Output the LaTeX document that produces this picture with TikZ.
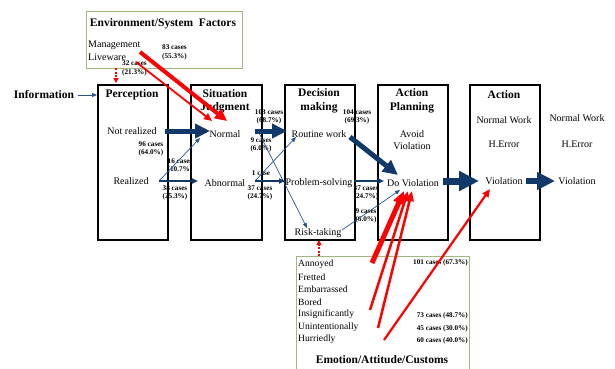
\documentclass[tikz,border=0pt]{standalone}
\usepackage{fontspec}
\setmainfont{Liberation Serif}
\usetikzlibrary{arrows.meta}
\definecolor{navy}{RGB}{16,56,104}
\definecolor{navythin}{RGB}{40,85,145}
\definecolor{boxgreen}{RGB}{160,185,125}
\definecolor{myred}{RGB}{255,0,0}
\begin{document}
\begin{tikzpicture}[x=1pt,y=-1pt,
 stagebox/.style={draw=black,line width=1.5pt},
 greenbox/.style={draw=boxgreen,line width=0.9pt},
 ttl/.style={font=\fontsize{11.5}{13.5}\selectfont\bfseries,align=center,inner sep=0},
 txt/.style={font=\fontsize{10}{12}\selectfont,inner sep=0},
 item/.style={font=\fontsize{9.6}{12}\selectfont,inner sep=0,anchor=west},
 cases/.style={font=\fontsize{7.2}{8.6}\selectfont\bfseries,align=left,inner sep=0},
 bigarrow/.style={draw=navy,line width=5pt,-{Triangle[length=15pt,width=14pt]}},
 hugearrow/.style={draw=navy,line width=7pt,-{Triangle[length=20pt,width=19pt]}},
 midarrow/.style={draw=navy,line width=1.8pt,-{Triangle[length=6pt,width=5pt]}},
 thinarrow/.style={draw=navythin,line width=0.7pt,-{Triangle[length=5pt,width=4pt]}},
 redthick/.style={draw=myred,line width=4pt,-{Triangle[length=12pt,width=11pt]}},
 redthin/.style={draw=myred,line width=1.8pt,-{Triangle[length=8pt,width=7pt]}},
 reddash/.style={draw=myred,line width=1.3pt,dashed,dash pattern=on 2pt off 1.5pt,-{Triangle[length=5pt,width=5pt]}}
]
\useasboundingbox (0,0) rectangle (615,369);
\fill[white] (0,0) rectangle (615,369);

% boxes
\draw[greenbox] (86,11) rectangle (242,68);
\node[stagebox,minimum width=70pt,minimum height=155pt,inner sep=0,anchor=north west] (perc) at (97,84) {};
\node[stagebox,minimum width=71pt,minimum height=155pt,inner sep=0,anchor=north west] (situ) at (190,84) {};
\node[stagebox,minimum width=70pt,minimum height=155pt,inner sep=0,anchor=north west] (deci) at (284,84) {};
\node[stagebox,minimum width=70pt,minimum height=155pt,inner sep=0,anchor=north west] (plan) at (377,84) {};
\node[stagebox,minimum width=70pt,minimum height=155pt,inner sep=0,anchor=north west] (act) at (469,84) {};
\draw[greenbox] (296,372) -- (296,256) -- (469,256) -- (469,372);

% environment box text
\node[ttl] (envt) at (163,24) {Environment/System\ \ Factors};
\node[item,font=\fontsize{10}{12}\selectfont] (mgmt) at (88,45) {Management};
\node[item,font=\fontsize{10}{12}\selectfont] (live) at (88,57) {Liveware};
\node[cases,anchor=north west] (c83) at (162,45) {83 cases\\(55.3\%)};
\node[cases,anchor=north west] (c32) at (122,61) {32 cases\\(21.3\%)};

% titles
\node[ttl] (info) at (44,95) {Information};
\node[ttl] (perct) at (132,95) {Perception};
\node[ttl] (situt) at (225,101.5) {Situation\\Judgment};
\node[ttl] (decit) at (319,101) {Decision\\making};
\node[ttl] (plant) at (412,101) {Action\\Planning};
\node[ttl] (actt) at (504,95) {Action};

% stage contents
\node[txt] (notr) at (132,131) {Not realized};
\node[txt] (real) at (131,181) {Realized};
\node[txt] (normal) at (225,134) {Normal};
\node[txt] (abn) at (225,183) {Abnormal};
\node[txt] (rout) at (319,134) {Routine work};
\node[txt] (prob) at (319,183) {Problem-solving};
\node[txt] (risk) at (318,233) {Risk-taking};
\node[txt,align=center,font=\fontsize{10}{12.5}\selectfont] (avoid) at (412,140) {Avoid\\Violation};
\node[txt] (dov) at (413,183) {Do Violation};
\node[txt] (nw) at (504,120) {Normal Work};
\node[txt] (he) at (504,144) {H.Error};
\node[txt] (viol) at (504,181) {Violation};
\node[txt] (nwo) at (577,118) {Normal Work};
\node[txt] (heo) at (577,144) {H.Error};
\node[txt] (violo) at (577,181) {Violation};

% case labels
\node[cases,align=center] (c96) at (151,149) {96 cases\\(64.0\%)};
\node[cases,align=center] (c16) at (180,166) {16 cases\\(10.7\%)};
\node[cases,align=center] (c38) at (175,193) {38 cases\\(25.3\%)};
\node[cases,align=center] (c103) at (269,117) {103 cases\\(68.7\%)};
\node[cases,align=center] (c9a) at (261,145) {9 cases\\(6.0\%)};
\node[cases] (c1) at (261,173) {1 case};
\node[cases,align=center] (c37a) at (260,193) {37 cases\\(24.7\%)};
\node[cases,align=center] (c104) at (357,117) {104 cases\\(69.3\%)};
\node[cases,align=center] (c37b) at (366,193) {37 cases\\(24.7\%)};
\node[cases,align=center] (c9b) at (366,216) {9 cases\\(6.0\%)};

% emotion box
\node[item] (ann) at (298,264) {Annoyed};
\node[item] (fre) at (298,277) {Fretted};
\node[item] (emb) at (298,289) {Embarrassed};
\node[item] (bor) at (298,302) {Bored};
\node[item] (ins) at (298,314) {Insignificantly};
\node[item] (uni) at (298,327) {Unintentionally};
\node[item] (hur) at (298,339) {Hurriedly};
\node[ttl] (emot) at (382,360) {Emotion/Attitude/Customs};
\node[cases,anchor=east] (c101) at (468,263) {101 cases (67.3\%)};
\node[cases,anchor=east] (c73) at (468,316) {73 cases (48.7\%)};
\node[cases,anchor=east] (c45) at (468,329) {45 cases (30.0\%)};
\node[cases,anchor=east] (c60) at (468,341) {60 cases (40.0\%)};

% coordinates for connector ends
\coordinate (infoE) at (78,95);
\coordinate (percW) at (97,95);
\coordinate (nrE) at (165,131);
\coordinate (normW) at (210,131);
\coordinate (reE) at (159,181);
\coordinate (normSW) at (200,138);
\coordinate (abnW) at (198,181);
\coordinate (normE) at (255,131);
\coordinate (normE2) at (258,131);
\coordinate (routW) at (287,131);
\coordinate (riskN) at (307,228);
\coordinate (abnE) at (255,181);
\coordinate (routSW) at (296,137);
\coordinate (probW) at (285,181);
\coordinate (routE) at (350,137);
\coordinate (dovNW) at (398,175);
\coordinate (probE) at (354,181);
\coordinate (dovW) at (384,181);
\coordinate (riskE) at (342,230);
\coordinate (dovSW) at (400,190);
\coordinate (dovE) at (443,181);
\coordinate (violW) at (479,181);
\coordinate (violE) at (526,181);
\coordinate (violoW) at (555,181);

% blue connectors
\draw[thinarrow] (infoE) -- (percW);
\draw[bigarrow] (nrE) -- (normW);
\draw[thinarrow] (reE) -- (normSW);
\draw[midarrow] (reE) -- (abnW);
\draw[bigarrow] (normE) -- (routW);
\draw[thinarrow] (normE2) -- (riskN);
\draw[thinarrow] (abnE) -- (routSW);
\draw[midarrow] (abnE) -- (probW);
\draw[bigarrow] (routE) -- (dovNW);
\draw[midarrow] (probE) -- (dovW);
\draw[thinarrow] (riskE) -- (dovSW);
\draw[hugearrow] (dovE) -- (violW);
\draw[bigarrow,line width=6pt,-{Triangle[length=18pt,width=17pt]}] (violE) -- (violoW);

% red connectors
\coordinate (envS) at (116,68);
\coordinate (percN) at (116,83);
\coordinate (emoN) at (319,256);
\coordinate (deciS) at (319,240);
\coordinate (mgmtE) at (140,52);
\coordinate (liveE) at (136,62);
\coordinate (judg1) at (227,121);
\coordinate (judg2) at (212,121);
\coordinate (annE) at (372,263);
\coordinate (insE) at (370,310);
\coordinate (uniE) at (378,328);
\coordinate (hurE) at (384,340);
\coordinate (dovS1) at (404,191);
\coordinate (dovS2) at (408,191);
\coordinate (dovS3) at (412,191);
\coordinate (violSW) at (490,189);

\draw[reddash] (envS) -- (percN);
\draw[reddash] (emoN) -- (deciS);
\draw[redthick] (mgmtE) -- (judg1);
\draw[redthin] (liveE) -- (judg2);
\draw[redthick,line width=5pt,-{Triangle[length=13pt,width=11pt]}] (annE) -- (dovS1);
\draw[redthick,line width=2.5pt,-{Triangle[length=10pt,width=8pt]}] (insE) -- (dovS2);
\draw[redthick,line width=2.5pt,-{Triangle[length=10pt,width=8pt]}] (uniE) -- (dovS3);
\draw[redthin,line width=2.2pt] (hurE) -- (violSW);
\end{tikzpicture}
\end{document}
